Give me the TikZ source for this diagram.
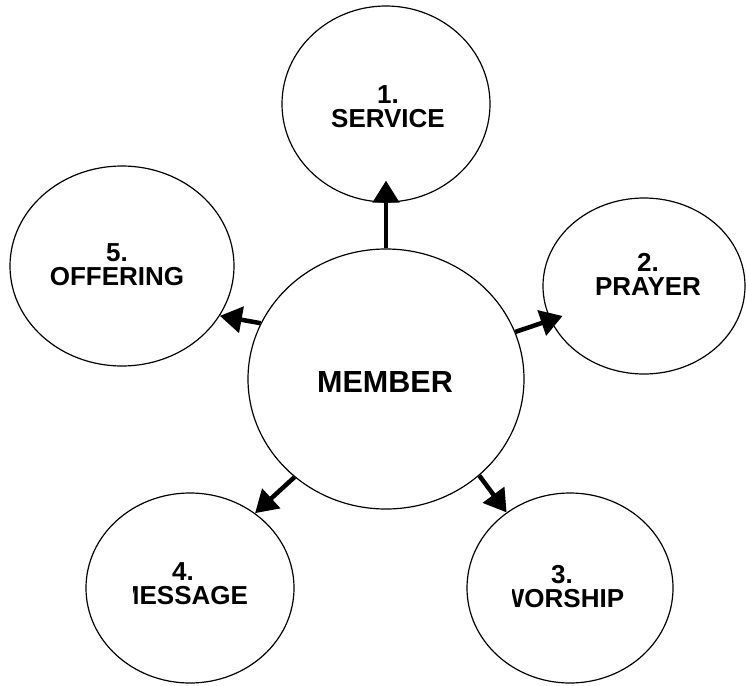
\documentclass[tikz,border=0pt]{standalone}
\usepackage{fontspec}
\setmainfont{Liberation Sans}
\usetikzlibrary{shapes.geometric, arrows.meta}

\begin{document}
\begin{tikzpicture}[x=1pt,y=-1pt,
    mycirc/.style={ellipse,draw,line width=1.2pt,inner sep=0pt},
    mylabel/.style={align=center,inner sep=0pt,font=\bfseries\fontsize{26}{24}\selectfont},
    myarrow/.style={line width=4.5pt,-{Triangle[length=22pt,width=26pt]}}]
        \useasboundingbox (0,0) rectangle (746,685);

        \node[mycirc,minimum width=276pt,minimum height=260pt] (member) at (386,379) {};
        \node[mycirc,minimum width=208pt,minimum height=196pt] (service) at (386,104) {};
        \node[mycirc,minimum width=202pt,minimum height=176pt] (prayer) at (644,286) {};
        \node[mycirc,minimum width=206pt,minimum height=190pt] (worship) at (570,588) {};
        \node[mycirc,minimum width=208pt,minimum height=190pt] (message) at (190,588) {};
        \node[mycirc,minimum width=224pt,minimum height=200pt] (offering) at (122,266) {};

        \node[mylabel,font=\bfseries\fontsize{30.5}{30}\selectfont] (member_label) at (385,382) {MEMBER};
        \node[mylabel] (service_label) at (388,107) {1.\\SERVICE};
        \node[mylabel] (prayer_label) at (648,274) {2.\\PRAYER};
        \node[mylabel] (offering_label) at (117,265) {5.\\OFFERING};

        % the first letters of these two are cut off
        \begin{scope}
            \clip (133,540) rectangle (300,620);
            \node[mylabel] (message_label) at (183,584) {4.\\MESSAGE};
        \end{scope}
        \begin{scope}
            \clip (512,550) rectangle (650,620);
            \node[mylabel] (worship_label) at (562,587) {3.\\WORSHIP};
        \end{scope}

        \draw[myarrow,shorten >=-22pt] (member.90) -- (service.270);
        \draw[myarrow,shorten >=-13pt] (member.20) -- (prayer.200);
        \draw[myarrow] (member.314) -- (worship.130);
        \draw[myarrow] (member.227) -- (message.49);
        \draw[myarrow] (member.156) -- (offering.333);

    \end{tikzpicture}
\end{document}
